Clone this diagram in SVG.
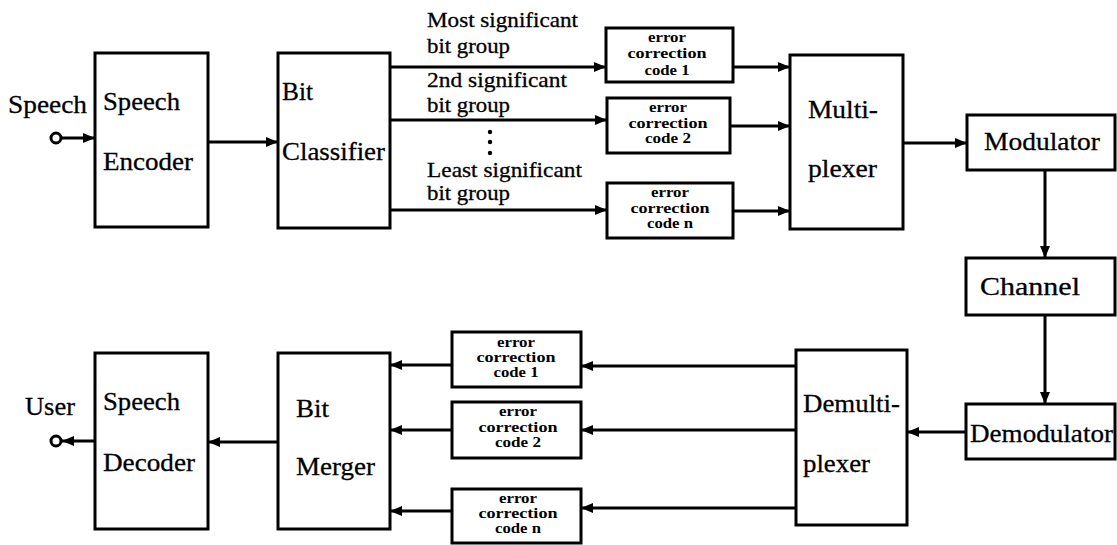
<svg xmlns="http://www.w3.org/2000/svg" width="1117" height="545" viewBox="0 0 1117 545">
  <style>
    text { font-family: "Liberation Serif", "Times New Roman", Times, serif; fill: #000; }
    .box { fill: #fff; stroke: #000; stroke-width: 3; }
    .lbl { font-size: 26px; stroke: #000; stroke-width: 0.3; }
    .sm { font-size: 21px; stroke: #000; stroke-width: 0.3; }
    .ecc { font-size: 14.5px; font-weight: bold; text-anchor: middle; }
    .wire { fill: none; stroke: #000; stroke-width: 3; }
    .term { fill: #fff; stroke: #000; stroke-width: 3; }
  </style>
  <defs>
    <marker id="arrow" viewBox="0 0 12 10" refX="12" refY="5" markerWidth="12" markerHeight="10" markerUnits="userSpaceOnUse" orient="auto">
      <path d="M0,0 L12,5 L0,10 Z" fill="#000"/>
    </marker>
  </defs>

  <rect width="1117" height="545" fill="#fff"/>

  <!-- connectors -->
  <g id="connectors">
    <path class="wire" d="M62,138 L95,138" marker-end="url(#arrow)"/>
    <path class="wire" d="M208,142 L278,142" marker-end="url(#arrow)"/>
    <path class="wire" d="M390,67 L606,67" marker-end="url(#arrow)"/>
    <path class="wire" d="M390,120 L607,120" marker-end="url(#arrow)"/>
    <path class="wire" d="M390,210 L607,210" marker-end="url(#arrow)"/>
    <path class="wire" d="M733,67 L790,67" marker-end="url(#arrow)"/>
    <path class="wire" d="M730,126 L790,126" marker-end="url(#arrow)"/>
    <path class="wire" d="M733,211 L790,211" marker-end="url(#arrow)"/>
    <path class="wire" d="M903,143 L967,143" marker-end="url(#arrow)"/>
    <path class="wire" d="M1045,170 L1045,258" marker-end="url(#arrow)"/>
    <path class="wire" d="M1045,315 L1045,404" marker-end="url(#arrow)"/>
    <path class="wire" d="M966,432 L907,432" marker-end="url(#arrow)"/>
    <path class="wire" d="M796,366 L581,366" marker-end="url(#arrow)"/>
    <path class="wire" d="M796,430 L581,430" marker-end="url(#arrow)"/>
    <path class="wire" d="M796,508 L581,508" marker-end="url(#arrow)"/>
    <path class="wire" d="M452,365 L390,365" marker-end="url(#arrow)"/>
    <path class="wire" d="M452,430 L390,430" marker-end="url(#arrow)"/>
    <path class="wire" d="M452,511 L390,511" marker-end="url(#arrow)"/>
    <path class="wire" d="M278,442 L208,442" marker-end="url(#arrow)"/>
    <path class="wire" d="M95,441 L62,441" marker-end="url(#arrow)"/>
  </g>

  <!-- input terminal -->
  <g id="speech-in">
    <circle class="term" cx="56" cy="138" r="5"/>
    <text class="lbl" x="8" y="113" textLength="79" lengthAdjust="spacingAndGlyphs">Speech</text>
  </g>

  <!-- output terminal -->
  <g id="user-out">
    <circle class="term" cx="56" cy="441" r="5"/>
    <text class="lbl" x="25" y="415" textLength="50" lengthAdjust="spacingAndGlyphs">User</text>
  </g>

  <g id="speech-encoder">
    <rect class="box" x="95" y="53" width="113" height="174"/>
    <text class="lbl" x="103" y="110" textLength="77" lengthAdjust="spacingAndGlyphs">Speech</text>
    <text class="lbl" x="103" y="170" textLength="90" lengthAdjust="spacingAndGlyphs">Encoder</text>
  </g>

  <g id="bit-classifier">
    <rect class="box" x="278" y="53" width="112" height="175"/>
    <text class="lbl" x="282" y="100" textLength="31" lengthAdjust="spacingAndGlyphs">Bit</text>
    <text class="lbl" x="282" y="160" textLength="103" lengthAdjust="spacingAndGlyphs">Classifier</text>
  </g>

  <g id="group-labels">
    <text class="sm" x="427" y="27" textLength="151" lengthAdjust="spacingAndGlyphs">Most significant</text>
    <text class="sm" x="427" y="53" textLength="83" lengthAdjust="spacingAndGlyphs">bit group</text>
    <text class="sm" x="427" y="87" textLength="140" lengthAdjust="spacingAndGlyphs">2nd significant</text>
    <text class="sm" x="427" y="112" textLength="83" lengthAdjust="spacingAndGlyphs">bit group</text>
    <circle cx="490" cy="132" r="2.2" fill="#000"/>
    <circle cx="490" cy="142" r="2.2" fill="#000"/>
    <circle cx="490" cy="153" r="2.2" fill="#000"/>
    <text class="sm" x="427" y="177" textLength="155" lengthAdjust="spacingAndGlyphs">Least significant</text>
    <text class="sm" x="427" y="200" textLength="83" lengthAdjust="spacingAndGlyphs">bit group</text>
  </g>

  <g id="ecc-tx-1">
    <rect class="box" x="606" y="28" width="127" height="54"/>
    <text class="ecc" x="667" y="42" textLength="38" lengthAdjust="spacingAndGlyphs">error</text>
    <text class="ecc" x="667" y="58" textLength="79" lengthAdjust="spacingAndGlyphs">correction</text>
    <text class="ecc" x="667" y="75" textLength="45" lengthAdjust="spacingAndGlyphs">code 1</text>
  </g>
  <g id="ecc-tx-2">
    <rect class="box" x="607" y="98" width="123" height="55"/>
    <text class="ecc" x="668" y="112" textLength="38" lengthAdjust="spacingAndGlyphs">error</text>
    <text class="ecc" x="668" y="128" textLength="79" lengthAdjust="spacingAndGlyphs">correction</text>
    <text class="ecc" x="668" y="143" textLength="46" lengthAdjust="spacingAndGlyphs">code 2</text>
  </g>
  <g id="ecc-tx-n">
    <rect class="box" x="607" y="183" width="126" height="55"/>
    <text class="ecc" x="670" y="197" textLength="38" lengthAdjust="spacingAndGlyphs">error</text>
    <text class="ecc" x="670" y="213" textLength="79" lengthAdjust="spacingAndGlyphs">correction</text>
    <text class="ecc" x="670" y="228" textLength="46" lengthAdjust="spacingAndGlyphs">code n</text>
  </g>

  <g id="multiplexer">
    <rect class="box" x="790" y="55" width="113" height="174"/>
    <text class="lbl" x="808" y="118" textLength="70" lengthAdjust="spacingAndGlyphs">Multi-</text>
    <text class="lbl" x="808" y="177" textLength="69" lengthAdjust="spacingAndGlyphs">plexer</text>
  </g>

  <g id="modulator">
    <rect class="box" x="967" y="115" width="148" height="55"/>
    <text class="lbl" x="984" y="150" textLength="116" lengthAdjust="spacingAndGlyphs">Modulator</text>
  </g>

  <g id="channel">
    <rect class="box" x="966" y="258" width="149" height="57"/>
    <text class="lbl" x="980" y="295" textLength="100" lengthAdjust="spacingAndGlyphs">Channel</text>
  </g>

  <g id="demodulator">
    <rect class="box" x="966" y="404" width="149" height="55"/>
    <text class="lbl" x="970" y="442" textLength="143" lengthAdjust="spacingAndGlyphs">Demodulator</text>
  </g>

  <g id="demultiplexer">
    <rect class="box" x="796" y="350" width="111" height="175"/>
    <text class="lbl" x="803" y="412" textLength="97" lengthAdjust="spacingAndGlyphs">Demulti-</text>
    <text class="lbl" x="803" y="472" textLength="67" lengthAdjust="spacingAndGlyphs">plexer</text>
  </g>

  <g id="ecc-rx-1">
    <rect class="box" x="452" y="332" width="129" height="55"/>
    <text class="ecc" x="516" y="347" textLength="38" lengthAdjust="spacingAndGlyphs">error</text>
    <text class="ecc" x="516" y="362" textLength="79" lengthAdjust="spacingAndGlyphs">correction</text>
    <text class="ecc" x="516" y="377" textLength="45" lengthAdjust="spacingAndGlyphs">code 1</text>
  </g>
  <g id="ecc-rx-2">
    <rect class="box" x="452" y="402" width="129" height="56"/>
    <text class="ecc" x="518" y="416" textLength="38" lengthAdjust="spacingAndGlyphs">error</text>
    <text class="ecc" x="518" y="432" textLength="79" lengthAdjust="spacingAndGlyphs">correction</text>
    <text class="ecc" x="518" y="447" textLength="46" lengthAdjust="spacingAndGlyphs">code 2</text>
  </g>
  <g id="ecc-rx-n">
    <rect class="box" x="452" y="489" width="129" height="54"/>
    <text class="ecc" x="518" y="503" textLength="38" lengthAdjust="spacingAndGlyphs">error</text>
    <text class="ecc" x="518" y="518" textLength="79" lengthAdjust="spacingAndGlyphs">correction</text>
    <text class="ecc" x="518" y="533" textLength="46" lengthAdjust="spacingAndGlyphs">code n</text>
  </g>

  <g id="bit-merger">
    <rect class="box" x="278" y="353" width="112" height="176"/>
    <text class="lbl" x="296" y="417" textLength="33" lengthAdjust="spacingAndGlyphs">Bit</text>
    <text class="lbl" x="296" y="475" textLength="79" lengthAdjust="spacingAndGlyphs">Merger</text>
  </g>

  <g id="speech-decoder">
    <rect class="box" x="95" y="353" width="113" height="176"/>
    <text class="lbl" x="103" y="410" textLength="77" lengthAdjust="spacingAndGlyphs">Speech</text>
    <text class="lbl" x="103" y="471" textLength="92" lengthAdjust="spacingAndGlyphs">Decoder</text>
  </g>
</svg>
